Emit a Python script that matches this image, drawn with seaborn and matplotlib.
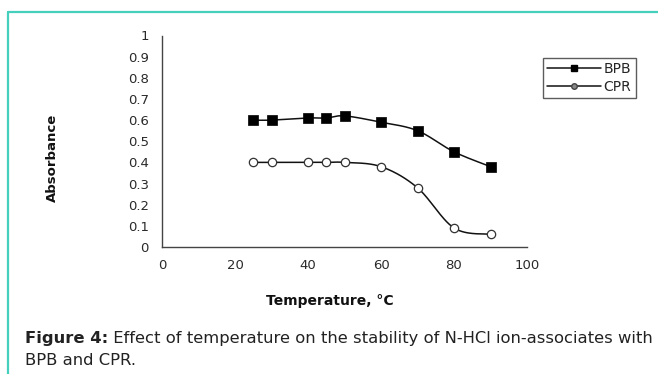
import numpy as np
import pandas as pd
import matplotlib
matplotlib.use("Agg")
import matplotlib.pyplot as plt
from matplotlib.lines import Line2D
import seaborn as sns

# ---- data ----
temperature = [25, 30, 40, 45, 50, 60, 70, 80, 90]
bpb = [0.60, 0.60, 0.61, 0.61, 0.62, 0.59, 0.55, 0.45, 0.38]
cpr = [0.40, 0.40, 0.40, 0.40, 0.40, 0.38, 0.28, 0.09, 0.06]
series_names = ["BPB", "CPR"]
x_ticks = [0, 20, 40, 60, 80, 100]
y_ticks = [0, 0.1, 0.2, 0.3, 0.4, 0.5, 0.6, 0.7, 0.8, 0.9, 1]
y_tick_labels = ["0", "0.1", "0.2", "0.3", "0.4", "0.5", "0.6", "0.7", "0.8", "0.9", "1"]
x_label = "Temperature, °C"
y_label = "Absorbance"
caption_bold = "Figure 4:"
caption_rest = " Effect of temperature on the stability of N-HCl ion-associates with"
caption_line2 = "BPB and CPR."

df = pd.DataFrame({"Temperature": temperature * 2,
                   "Absorbance": bpb + cpr,
                   "Series": [series_names[0]] * len(temperature) + [series_names[1]] * len(temperature)})

sns.set_theme(style="white")
plt.rcParams["font.family"] = ["DejaVu Sans"]


def smooth(x, y, n=30):
    """Excel-like smoothed line (Catmull-Rom Bezier) through the given points."""
    x = np.asarray(x, float)
    y = np.asarray(y, float)
    px, py = [], []
    m = len(x)
    for i in range(m - 1):
        p0 = np.array([x[max(i - 1, 0)], y[max(i - 1, 0)]])
        p1 = np.array([x[i], y[i]])
        p2 = np.array([x[i + 1], y[i + 1]])
        p3 = np.array([x[min(i + 2, m - 1)], y[min(i + 2, m - 1)]])
        c1 = p1 + (p2 - p0) / 6.0
        c2 = p2 - (p3 - p1) / 6.0
        t = np.linspace(0, 1, n)[:, None]
        pts = ((1 - t) ** 3) * p1 + 3 * ((1 - t) ** 2) * t * c1 + 3 * (1 - t) * t ** 2 * c2 + t ** 3 * p2
        px.extend(pts[:, 0])
        py.extend(pts[:, 1])
    return px, py


W, H = 658, 374
fig = plt.figure(figsize=(W / 100, H / 100), dpi=100)
fig.patch.set_facecolor("white")

ax = fig.add_axes([162 / W, (H - 247) / H, (527 - 162) / W, (247 - 35.5) / H])
ax.set_facecolor("white")

line_col = "#111111"
for name, vals in zip(series_names, [bpb, cpr]):
    sx, sy = smooth(temperature, vals)
    ax.plot(sx, sy, color=line_col, lw=1.1, zorder=2)

sns.scatterplot(data=df[df.Series == "BPB"], x="Temperature", y="Absorbance",
                marker="s", s=48, color="black", edgecolor="black", linewidth=0.5,
                ax=ax, zorder=3, legend=False)
sns.scatterplot(data=df[df.Series == "CPR"], x="Temperature", y="Absorbance",
                marker="o", s=36, color="white", edgecolor="#333333", linewidth=0.9,
                ax=ax, zorder=3, legend=False)

ax.set_xlim(0, 100)
ax.set_ylim(0, 1)
ax.set_xticks(x_ticks)
ax.set_xticklabels([str(v) for v in x_ticks])
ax.set_yticks(y_ticks)
ax.set_yticklabels(y_tick_labels)
ax.set_xlabel("")
ax.set_ylabel("")
for s in ["top", "right"]:
    ax.spines[s].set_visible(False)
for s in ["left", "bottom"]:
    ax.spines[s].set_color("#444444")
    ax.spines[s].set_linewidth(1.0)
ax.tick_params(axis="both", which="both", direction="out", length=4.5, width=0.9,
               color="#444444", labelsize=9.5, labelcolor="#2a2a2a")
ax.tick_params(axis="y", pad=5)
ax.tick_params(axis="x", pad=4)
ax.grid(False)

# legend
handles = [Line2D([], [], color=line_col, lw=1.1, marker="s", markersize=5,
                  markerfacecolor="black", markeredgecolor="black"),
           Line2D([], [], color=line_col, lw=1.1, marker="o", markersize=4,
                  markerfacecolor="#888888", markeredgecolor="#444444")]
leg = fig.legend(handles, series_names, loc="upper left",
                 bbox_to_anchor=(542.5 / W, 1 - 57.5 / H), frameon=True,
                 fancybox=False, fontsize=10, handlelength=3.9, handletextpad=0.2,
                 borderpad=0.3, labelspacing=0.3, borderaxespad=0)
leg.get_frame().set_edgecolor("#333333")
leg.get_frame().set_linewidth(1.0)

# axis titles
fig.text(52 / W, 1 - 158 / H, y_label, rotation=90, ha="center", va="center",
         fontsize=9.5, fontweight="bold", color="#111111")
fig.text(329.5 / W, 1 - 301.5 / H, x_label, ha="center", va="center",
         fontsize=10, fontweight="bold", color="#111111")

# caption: size chosen so that the first line spans x = 25 .. 652 px
renderer = fig.canvas.get_renderer()
cap_size = 12
for _ in range(3):
    ta = fig.text(0, 0, caption_bold, fontsize=cap_size, fontweight="bold")
    tb = fig.text(0, 0, caption_rest, fontsize=cap_size)
    wtot = ta.get_window_extent(renderer).width + tb.get_window_extent(renderer).width
    ta.remove()
    tb.remove()
    cap_size = cap_size * (652 - 25) / wtot

t1 = fig.text(25 / W, 1 - 343 / H, caption_bold, ha="left", va="baseline",
              fontsize=cap_size, fontweight="bold", color="#222222")
bb = t1.get_window_extent(renderer)
fig.text(bb.x1 / W, 1 - 343 / H, caption_rest, ha="left", va="baseline",
         fontsize=cap_size, color="#222222")
fig.text(25 / W, 1 - 365 / H, caption_line2, ha="left", va="baseline",
         fontsize=cap_size, color="#222222")

# teal frame
teal = "#45d0bd"
fig.add_artist(Line2D([8 / W, 1], [1 - 12 / H, 1 - 12 / H], color=teal, lw=1.6,
                      transform=fig.transFigure))
fig.add_artist(Line2D([8 / W, 8 / W], [1 - 12 / H, 0], color=teal, lw=1.6,
                      transform=fig.transFigure))

fig.savefig("out.png", dpi=100, facecolor="white")
